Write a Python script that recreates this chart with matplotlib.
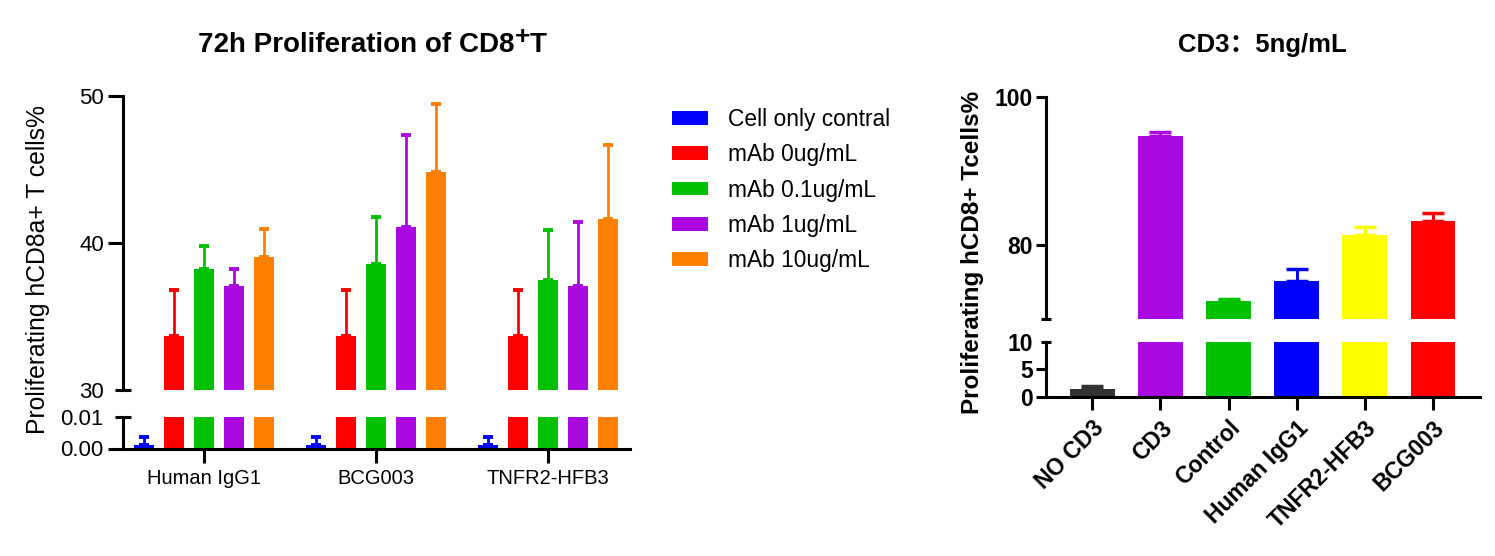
import numpy as np
import matplotlib
matplotlib.use("Agg")
import matplotlib.pyplot as plt
from matplotlib.patches import Patch

plt.rcParams['font.family'] = ['Liberation Sans', 'Noto Sans CJK SC', 'DejaVu Sans']

# ---- left panel data ----
groups = ['Human IgG1', 'BCG003', 'TNFR2-HFB3']
series = ['Cell only contral', 'mAb 0ug/mL', 'mAb 0.1ug/mL', 'mAb 1ug/mL', 'mAb 10ug/mL']
cell_only = [0.001, 0.001, 0.001]
cell_only_err = [0.0025, 0.0025, 0.0025]
mab_0 = [33.7, 33.7, 33.7]
mab_0_err = [3.1, 3.1, 3.1]
mab_01 = [38.2, 38.6, 37.5]
mab_01_err = [1.6, 3.2, 3.4]
mab_1 = [37.1, 41.1, 37.1]
mab_1_err = [1.1, 6.25, 4.35]
mab_10 = [39.05, 44.8, 41.6]
mab_10_err = [1.9, 4.65, 5.05]
left_colors = ['#0000FF', '#FF0000', '#00C000', '#AA0ADF', '#FF8000']

# ---- right panel data ----
conditions = ['NO CD3', 'CD3', 'Control', 'Human IgG1', 'TNFR2-HFB3', 'BCG003']
cd8_vals = [1.5, 94.7, 72.4, 75.1, 81.3, 83.2]
cd8_err = [0.55, 0.55, 0.3, 1.65, 1.1, 1.15]
right_colors = ['#333333', '#AA0ADF', '#00C000', '#0000FF', '#FFFF00', '#FF0000']

W, H = 1495, 556
fig = plt.figure(figsize=(W / 100, H / 100), dpi=100)
LW = 2.2


def px_axes(x0, x1, ytop, ybot):
    return fig.add_axes([x0 / W, 1 - ybot / H, (x1 - x0) / W, (ybot - ytop) / H])


def style(ax, bottom, tlen, blen, size, pad, bold=False):
    for s in ['top', 'right']:
        ax.spines[s].set_visible(False)
    ax.spines['left'].set_linewidth(LW)
    ax.spines['bottom'].set_linewidth(LW)
    if not bottom:
        ax.spines['bottom'].set_visible(False)
        ax.tick_params(axis='x', which='both', bottom=False, labelbottom=False)
    ax.tick_params(axis='y', which='major', length=tlen, width=LW, labelsize=size, pad=pad)
    # break marks: short ticks that cross the axis
    ax.tick_params(axis='y', which='minor', direction='inout', length=blen, width=LW,
                   labelsize=size, pad=pad + tlen - blen / 2)
    ax.patch.set_alpha(0)
    if bold:
        for lab in ax.get_yticklabels(which='both'):
            lab.set_fontweight('bold')


# ---------------- left panel ----------------
step = 5.74
centers = np.arange(len(groups)) * step
vals = [cell_only, mab_0, mab_01, mab_1, mab_10]
errs = [cell_only_err, mab_0_err, mab_01_err, mab_1_err, mab_10_err]

axL_top = px_axes(123, 630, 96, 390)
axL_bot = px_axes(123, 630, 417, 448.5)
for ax in (axL_top, axL_bot):
    for i, (v, e, c) in enumerate(zip(vals, errs, left_colors)):
        x = centers + (i - 2)
        ax.bar(x, v, width=0.67, color=c, zorder=2)
        ax.errorbar(x, v, yerr=[np.zeros(len(e)), e], fmt='none', ecolor=c,
                    elinewidth=2, capsize=3.5, capthick=2.8, zorder=1)
    ax.set_xlim(-2.7, centers[-1] + 2.73)

axL_top.set_ylim(30, 50)
axL_top.set_yticks([40, 50])
axL_top.set_yticks([30], minor=True)
axL_top.set_yticklabels(['30'], minor=True)
axL_bot.set_ylim(0, 0.01)
axL_bot.set_yticks([0])
axL_bot.set_yticklabels(['0.00'])
axL_bot.set_yticks([0.01], minor=True)
axL_bot.set_yticklabels(['0.01'], minor=True)
axL_bot.set_xticks(centers)
axL_bot.set_xticklabels(groups, fontsize=14.5)
style(axL_top, False, 10.8, 11.5, 16, 3)
style(axL_bot, True, 10.8, 11.5, 16, 3)
axL_bot.tick_params(axis='x', length=10, width=LW, pad=5)

fig.text(38 / W, 1 - 270 / H, 'Proliferating hCD8a+ T cells%', rotation=90,
         ha='center', va='center', fontsize=17.8)

# title with raised plus
t1 = fig.text(198 / W, 1 - 45 / H, '72h Proliferation of CD8', fontsize=20,
              fontweight='bold', ha='left', va='center')
t2 = fig.add_artist(plt.Annotation('+', xy=(1.0, 0.53), xycoords=t1, fontsize=19,
                                   fontweight='bold', ha='left', va='baseline'))
fig.add_artist(plt.Annotation('T', xy=(1.0, 0.0), xycoords=(t2, t1), fontsize=20,
                              fontweight='bold', ha='left', va='bottom'))

handles = [Patch(facecolor=c, edgecolor='none') for c in left_colors]
fig.legend(handles, series, loc='upper left', bbox_to_anchor=(672 / W, 1 - 108 / H),
           frameon=False, fontsize=16.4, handlelength=1.6, handleheight=0.55,
           handletextpad=0.85, labelspacing=0.54, borderpad=0, borderaxespad=0)

# ---------------- right panel ----------------
xr = np.arange(len(conditions))
axR_top = px_axes(1046, 1480, 97, 319)
axR_bot = px_axes(1046, 1480, 341.7, 397)
for ax in (axR_top, axR_bot):
    ax.bar(xr, cd8_vals, width=0.66, color=right_colors, zorder=2)
    for x, v, e, c in zip(xr, cd8_vals, cd8_err, right_colors):
        ax.errorbar(x, v, yerr=[[0], [e]], fmt='none', ecolor=c,
                    elinewidth=2.2, capsize=8, capthick=2.5, zorder=1)
    ax.set_xlim(-0.68, len(conditions) - 1 + 0.69)

axR_top.set_ylim(70, 100)
axR_top.set_yticks([80, 100])
axR_top.set_yticks([70], minor=True)
axR_top.set_yticklabels([''], minor=True)
axR_bot.set_ylim(0, 10)
axR_bot.set_yticks([0, 5])
axR_bot.set_yticks([10], minor=True)
axR_bot.set_yticklabels(['10'], minor=True)
axR_bot.set_xticks(xr)
axR_bot.set_xticklabels(conditions, rotation=45, ha='right', rotation_mode='anchor',
                        fontsize=16.5, fontweight='bold')
style(axR_top, False, 7.5, 7.5, 16.5, 2, bold=True)
style(axR_bot, True, 7.5, 7.5, 16.5, 2, bold=True)
axR_bot.tick_params(axis='x', length=9, width=LW, pad=5)

fig.text(972 / W, 1 - 252 / H, 'Proliferating hCD8+ Tcells%', rotation=90,
         ha='center', va='center', fontsize=17.5, fontweight='bold')
fig.text(1262 / W, 1 - 45 / H, 'CD3：5ng/mL', ha='center', va='center',
         fontsize=18.5, fontweight='bold')

fig.savefig('out.png', dpi=100)
